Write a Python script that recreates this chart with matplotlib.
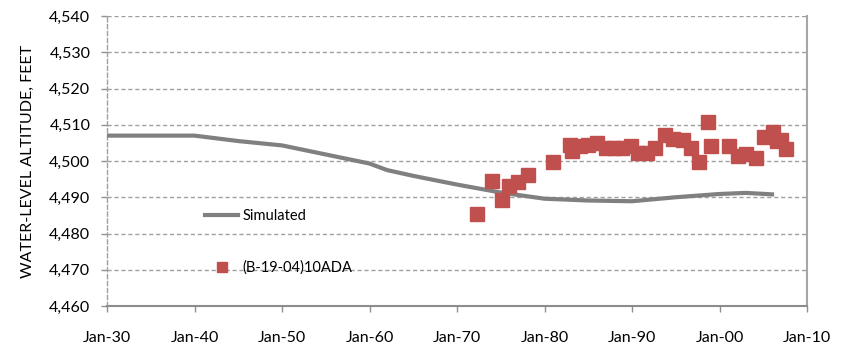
import matplotlib
matplotlib.use("Agg")
from matplotlib import pyplot as plt
from matplotlib.lines import Line2D

plt.rcParams['font.family'] = ['Lato', 'DejaVu Sans']

# simulated water level (decimal year, feet)
sim_year = [1930, 1940, 1945, 1950, 1955, 1960, 1962, 1965, 1970, 1975,
            1980, 1985, 1990, 1995, 2000, 2003, 2006]
sim_level = [4507.0, 4507.0, 4505.5, 4504.3, 4501.8, 4499.3, 4497.5, 4495.9,
             4493.5, 4491.3, 4489.6, 4489.1, 4488.9, 4490.0, 4490.9, 4491.2, 4490.8]

# measured water levels, well (B-19-04)10ADA
obs_year = [1972.3, 1974.0, 1975.1, 1975.9, 1977.0, 1978.1, 1981.0,
            1982.9, 1983.1, 1984.1, 1985.0, 1986.0, 1987.0, 1987.9, 1988.9,
            1989.9, 1990.7, 1991.7, 1992.6, 1993.8, 1994.7, 1995.8, 1996.7,
            1997.7, 1998.7, 1999.0, 2001.1, 2002.1, 2003.0, 2004.2, 2005.1,
            2006.1, 2006.6, 2007.0, 2007.6]
obs_level = [4485.4, 4494.5, 4489.2, 4493.2, 4494.2, 4496.2, 4499.8,
             4504.4, 4502.8, 4504.1, 4504.4, 4505.0, 4503.6, 4503.6, 4503.6,
             4504.1, 4502.2, 4502.1, 4503.7, 4507.2, 4506.0, 4505.8, 4503.7,
             4499.8, 4510.7, 4504.1, 4504.1, 4501.4, 4501.8, 4500.7, 4506.7,
             4508.1, 4505.5, 4505.8, 4503.2]

xticks = [1930, 1940, 1950, 1960, 1970, 1980, 1990, 2000, 2010]
xlabels = ['Jan-30', 'Jan-40', 'Jan-50', 'Jan-60', 'Jan-70', 'Jan-80',
           'Jan-90', 'Jan-00', 'Jan-10']
yticks = list(range(4460, 4541, 10))

fig = plt.figure(figsize=(8.45, 3.44), dpi=100)
ax = fig.add_axes([107/845, 38/344, 700/845, 290/344])

grid_col = '#a0a0a0'
for y in yticks[1:]:
    ax.axhline(y, color=grid_col, lw=1.0, ls=(0, (3, 2)), zorder=1)

ax.plot(sim_year, sim_level, color='#808080', lw=3, zorder=3, label='Simulated')
ax.plot(obs_year, obs_level, ls='none', marker='s', ms=9.5, color='#c0504d',
        zorder=4, label='(B-19-04)10ADA')

ax.set_xlim(1930, 2010)
ax.set_ylim(4460, 4540)
ax.set_xticks(xticks)
ax.set_xticklabels(xlabels)
ax.set_yticks(yticks)
ax.set_yticklabels([f'{v:,}' for v in yticks])
ax.tick_params(axis='both', direction='out', length=4, width=1,
               color='#909090', labelsize=11.5, labelcolor='black')
ax.tick_params(axis='x', pad=14)
ax.tick_params(axis='y', pad=8)

ax.spines['top'].set_visible(False)
ax.spines['left'].set_color(grid_col)
ax.spines['left'].set_linestyle((0, (3, 2)))
ax.spines['left'].set_linewidth(1.0)
ax.spines['right'].set_color('#a6a6a6')
ax.spines['right'].set_linewidth(1.5)
ax.spines['bottom'].set_color('#8c8c8c')
ax.spines['bottom'].set_linewidth(1.5)

ax.set_ylabel('WATER-LEVEL ALTITUDE, FEET', fontsize=11.5, labelpad=10)

handles = [Line2D([], [], color='#808080', lw=3),
           Line2D([], [], ls='none', marker='s', ms=7, color='#c0504d')]
ax.legend(handles, ['Simulated', '(B-19-04)10ADA'], loc='upper left',
          bbox_to_anchor=(0.121, 0.38), frameon=False, fontsize=10.5,
          labelspacing=2.6, handlelength=2.3, handletextpad=0.3)

fig.savefig('out.png', dpi=100)
